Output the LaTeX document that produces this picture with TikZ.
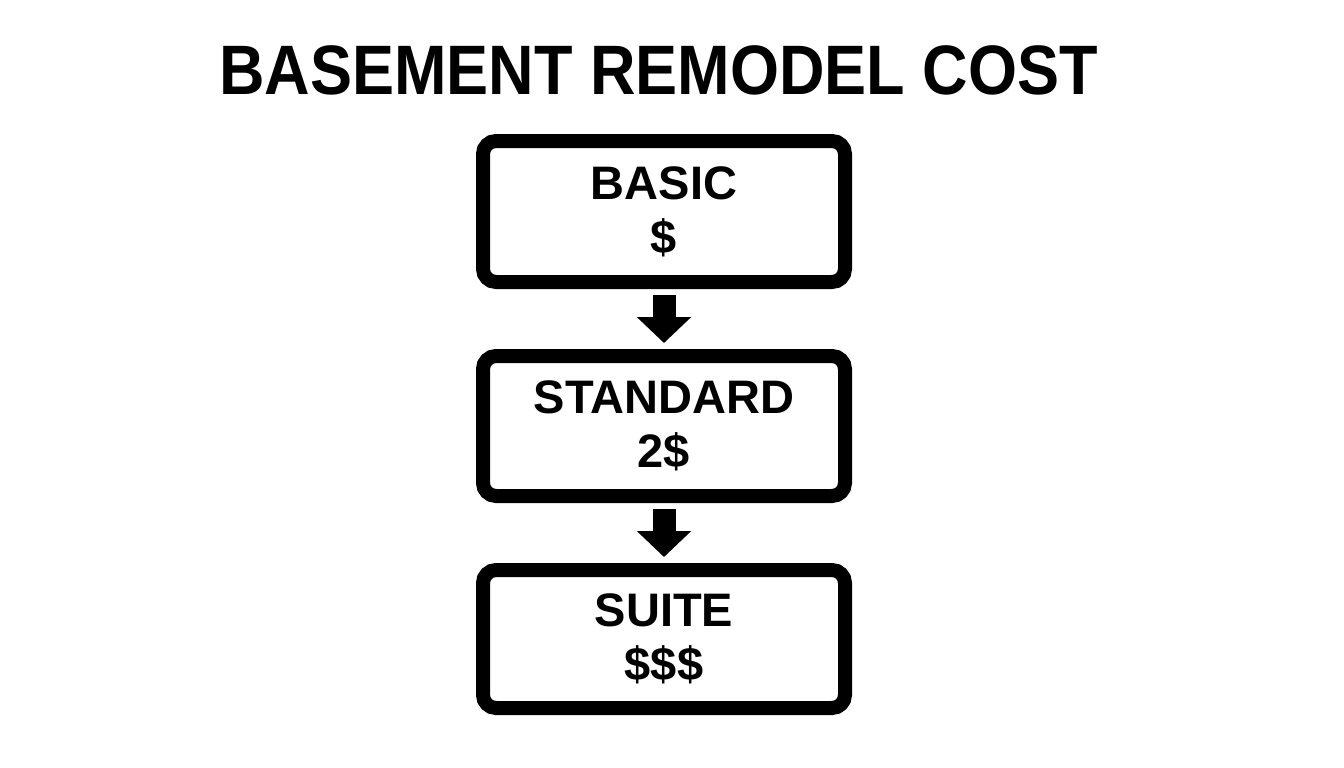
\documentclass[tikz,border=0pt]{standalone}
\usepackage{fontspec}
\setmainfont{Liberation Sans}
\usetikzlibrary{arrows.meta}
\tikzset{
  costbox/.style={draw=black, line width=14pt, rounded corners=13pt, fill=white,
    minimum width=362pt, inner sep=0pt, align=center,
    font=\fontsize{47}{54}\selectfont\bfseries},
  flowarrow/.style={line width=23pt, draw=black,
    -{Triangle[width=53pt,length=26pt]}, shorten <=6pt, shorten >=6pt},
  titletext/.style={font=\fontsize{70}{80}\selectfont\bfseries, inner sep=0pt, anchor=base, xscale=0.9}
}
\begin{document}
\begin{tikzpicture}[x=1pt,y=-1pt]
\useasboundingbox[fill=white] (0,0) rectangle (1344,768);
\node[titletext] (title) at (658.5,95) {BASEMENT REMODEL COST};
\node[costbox, minimum height=141pt] (b1) at (664,211.5) {BASIC\\\$};
\node[costbox, minimum height=140pt] (b2) at (664,426) {STANDARD\\2\$};
\node[costbox, minimum height=138pt] (b3) at (664,639) {SUITE\\\$\$\$};
\draw[flowarrow] (b1.south) -- (b2.north);
\draw[flowarrow] (b2.south) -- (b3.north);
\end{tikzpicture}
\end{document}
